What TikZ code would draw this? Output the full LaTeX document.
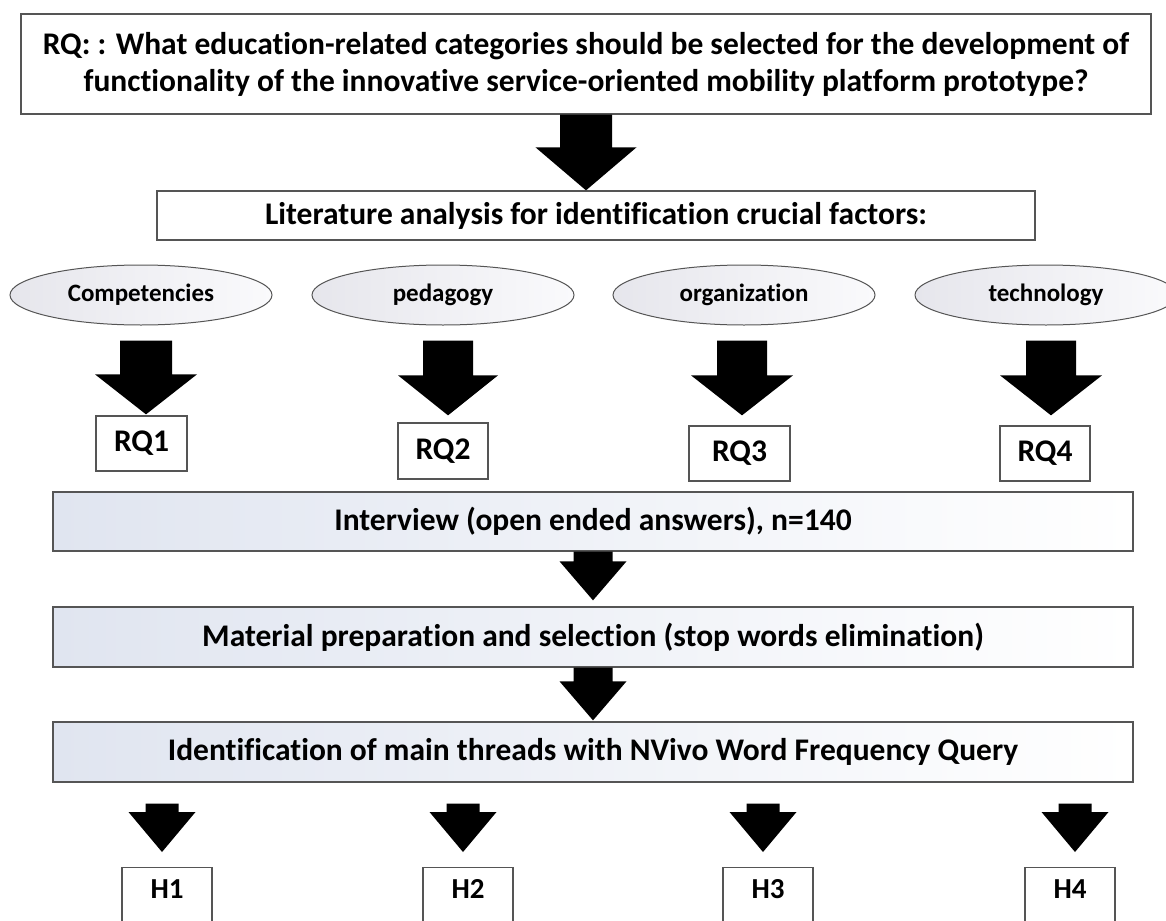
\documentclass[tikz,border=0pt]{standalone}
\usepackage{fontspec}
\setmainfont{Carlito}[Ligatures=NoCommon]
\usetikzlibrary{shapes.geometric,calc}
\definecolor{gl}{RGB}{224,229,240}
\definecolor{ell}{RGB}{230,230,236}
\definecolor{elr}{RGB}{250,250,252}
\definecolor{bd}{RGB}{85,85,85}
\newcommand\blockarr[5]{%
  \fill[black] let \p1=(#1), \p2=(#2) in
    (\x2-#3,\y1) -- (\x2+#3,\y1) -- (\x2+#3,\y2+#5) -- (\x2+#4,\y2+#5)
    -- (\x2,\y2) -- (\x2-#4,\y2+#5) -- (\x2-#3,\y2+#5) -- cycle;}
\tikzset{
  plainbox/.style={draw=bd, line width=1.3pt, fill=white, align=center, inner sep=0pt},
  gradbox/.style={plainbox, left color=gl, right color=white},
  ellnode/.style={ellipse, draw=bd, line width=1pt, left color=ell, right color=elr,
    minimum width=262pt, minimum height=60pt, inner sep=0pt,
    font=\bfseries\fontsize{25}{29}\selectfont},
  bigtext/.style={font=\bfseries\fontsize{31.5}{37}\selectfont},
  rqtext/.style={font=\bfseries\fontsize{31.5}{36}\selectfont},
  htext/.style={font=\bfseries\fontsize{29}{34}\selectfont},
}
\begin{document}
\begin{tikzpicture}[x=1pt,y=-1pt]
\useasboundingbox (0,0) rectangle (1166,920);
\clip (0,0) rectangle (1166,920);
\fill[white] (0,0) rectangle (1166,920);

% main boxes
\node[plainbox,bigtext,minimum width=1130pt,minimum height=100pt] (rq) at (586,64)
  {RQ: : What education-related categories should be selected for the development of\\functionality of the innovative service-oriented mobility platform prototype?};
\node[plainbox,bigtext,minimum width=878pt,minimum height=49pt] (lit) at (596,215.5)
  {Literature analysis for identification crucial factors:};

% ellipses
\node[ellnode] (e1) at (141,295) {Competencies};
\node[ellnode] (e2) at (443,295) {pedagogy};
\node[ellnode] (e3) at (744,295) {organization};
\node[ellnode] (e4) at (1046,295) {technology};

% RQ boxes
\node[plainbox,rqtext,minimum width=91pt,minimum height=55pt] (rq1) at (141.5,443.5) {RQ1};
\node[plainbox,rqtext,minimum width=90pt,minimum height=56pt] (rq2) at (443,451) {RQ2};
\node[plainbox,rqtext,minimum width=101pt,minimum height=55pt] (rq3) at (739.5,453.5) {RQ3};
\node[plainbox,rqtext,minimum width=90pt,minimum height=55pt] (rq4) at (1045,453.5) {RQ4};

% process boxes
\node[gradbox,bigtext,minimum width=1080pt,minimum height=59pt] (int) at (593,521.5)
  {Interview (open ended answers), n=140};
\node[gradbox,bigtext,minimum width=1080pt,minimum height=60pt] (mat) at (593,637)
  {Material preparation and selection (stop words elimination)};
\node[gradbox,bigtext,minimum width=1080pt,minimum height=60pt] (ide) at (593,752)
  {Identification of main threads with NVivo Word Frequency Query};

% H boxes
\node[plainbox,htext,anchor=north,minimum width=90pt,text height=31pt,text depth=30pt] (h1) at (167,867) {H1};
\node[plainbox,htext,anchor=north,minimum width=90pt,text height=31pt,text depth=30pt] (h2) at (468,867) {H2};
\node[plainbox,htext,anchor=north,minimum width=90pt,text height=31pt,text depth=30pt] (h3) at (768,867) {H3};
\node[plainbox,htext,anchor=north,minimum width=90pt,text height=31pt,text depth=30pt] (h4) at (1070,867) {H4};

% arrow end coordinates
\coordinate (a0t) at (rq.south |- lit.north);
\path (e1.south) ++(5,15) coordinate (a1s);  \path (rq1.north) ++(4.5,-1) coordinate (a1t);
\path (e2.south) ++(5,15) coordinate (a2s);  \path (rq2.north) ++(5,-7) coordinate (a2t);
\path (e3.south) ++(-2,15) coordinate (a3s); \path (rq3.north) ++(2.5,-10) coordinate (a3t);
\path (e4.south) ++(5,15) coordinate (a4s);  \path (rq4.north) ++(6,-10) coordinate (a4t);
\path (mat.north) ++(0,-6) coordinate (m1t);
\path (ide.north) ++(0,-1) coordinate (m2t);
\path (h1.north) ++(-5,-15) coordinate (h1t);
\path (h2.north) ++(-5,-15) coordinate (h2t);
\path (h3.north) ++(-5,-15) coordinate (h3t);
\path (h4.north) ++(5,-15) coordinate (h4t);
\path (ide.south) ++(0,21) coordinate (hs);

% block arrows
\blockarr{rq.south}{a0t}{26pt}{50.5pt}{43pt}
\blockarr{a1s}{a1t}{26pt}{51pt}{40pt}
\blockarr{a2s}{a2t}{25pt}{50pt}{40pt}
\blockarr{a3s}{a3t}{25pt}{51pt}{40pt}
\blockarr{a4s}{a4t}{25pt}{51pt}{40pt}
\blockarr{int.south}{m1t}{19.5pt}{33.5pt}{39pt}
\blockarr{mat.south}{m2t}{19.5pt}{33.5pt}{39pt}
\blockarr{hs}{h1t}{16.5pt}{33.5pt}{40pt}
\blockarr{hs}{h2t}{16.5pt}{33.5pt}{40pt}
\blockarr{hs}{h3t}{16.5pt}{33.5pt}{40pt}
\blockarr{hs}{h4t}{16.5pt}{33.5pt}{40pt}
\end{tikzpicture}
\end{document}
